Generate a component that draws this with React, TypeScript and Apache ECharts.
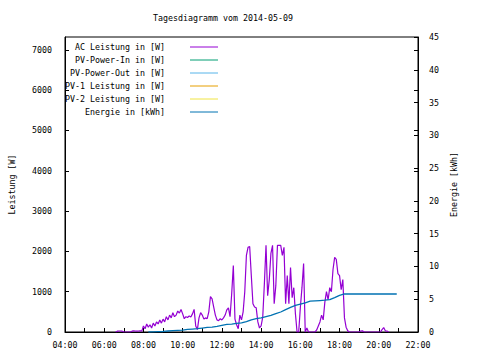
import { useEffect, useRef } from 'react';
import * as echarts from 'echarts';

const TITLE = 'Tagesdiagramm vom 2014-05-09';
const FONT = '"DejaVu Sans Mono", "Liberation Mono", monospace';

const keyNames = [
  'AC Leistung in [W]',
  'PV-Power-In in [W]',
  'PV-Power-Out in [W]',
  'PV-1 Leistung in [W]',
  'PV-2 Leistung in [W]',
  'Energie in [kWh]',
];
const keyColors = ['#9400d3', '#009e73', '#56b4e9', '#e69f00', '#f0e442', '#0072b2'];

// AC power, sampled every 5 minutes from 06:35
const acStart = '06:35';
const acStepMin = 5;
const acValues = [
  0, 20, 25, 25, 20, 0, 0, 0, 0, 0,
  20, 30, 25, 20, 25, 30, 20, 150, 80, 200,
  120, 180, 100, 220, 150, 250, 200, 300, 220, 320,
  250, 380, 300, 420, 350, 480, 380, 420, 520, 470,
  560, 450, 330, 380, 360, 400, 370, 450, 560, 150,
  60, 350, 480, 420, 320, 350, 330, 500, 880, 820,
  620, 420, 300, 280, 330, 300, 350, 420, 550, 600,
  380, 950, 1650, 320, 180, 80, 420, 300, 500, 1000,
  1900, 2100, 2120, 1400, 700, 620, 600, 250, 100, 150,
  370, 1200, 2150, 900, 1300, 1950, 2150, 700, 1150, 2150,
  2150, 2150, 1900, 2100, 700, 1400, 700, 1600, 850, 1100,
  450, 0, 0, 600, 1100, 1700, 0, 100, 0, 0,
  0, 0, 0, 50, 150, 250, 420, 300, 740, 1000,
  800, 1100, 1000, 1550, 1850, 1800, 1450, 1400, 1050, 1300,
  350, 120, 30, 0, 0, 0, 0, 0, 0, 0,
  25, 30, 0, 0, 0, 0, 0, 0, 0, 0,
  0, 0, 0, 60, 110, 30, 25, 0,
];

// Energy (kWh)
const energyTimes = [
  '08:15', '08:30', '08:45', '09:00', '09:15', '09:30', '09:45', '10:00',
  '10:15', '10:30', '10:45', '11:00', '11:15', '11:30', '11:45', '12:00',
  '12:15', '12:30', '12:45', '13:00', '13:15', '13:30', '13:45', '14:00',
  '14:15', '14:30', '14:45', '15:00', '15:15', '15:30', '15:45', '16:00',
  '16:15', '16:30', '16:45', '17:00', '17:15', '17:30', '17:45', '18:00',
  '18:15', '19:00', '20:00', '20:55',
];
const energyValues = [
  0, 0.02, 0.05, 0.08, 0.15, 0.2, 0.25, 0.3,
  0.4, 0.45, 0.5, 0.6, 0.7, 0.75, 0.85, 1.0,
  1.15, 1.2, 1.3, 1.4, 1.6, 1.85, 2.05, 2.15,
  2.35, 2.55, 2.8, 3.05, 3.4, 3.75, 4.05, 4.25,
  4.45, 4.7, 4.75, 4.8, 4.85, 4.95, 5.25, 5.6,
  5.8, 5.8, 5.8, 5.8,
];

const toHours = (s: string) => {
  const [h, m] = s.split(':').map(Number);
  return h + m / 60;
};
const pad = (n: number) => (n < 10 ? '0' + n : String(n));

export default function App() {
  const ref = useRef<HTMLDivElement>(null);
  useEffect(() => {
    if (!ref.current) return;
    const chart = echarts.init(ref.current, undefined, { renderer: 'svg' });
    const t0 = toHours(acStart);
    const acData = acValues.map((v, i) => [t0 + (i * acStepMin) / 60, v]);
    const enData = energyTimes.map((t, i) => [toHours(t), energyValues[i]]);
    const FS = 8.3;
    const txt = { color: '#000', fontFamily: FONT, fontSize: FS };

    const keyGraphics: any[] = [];
    keyNames.forEach((n, i) => {
      const y = 47 + i * 13;
      keyGraphics.push({
        type: 'text',
        x: 165,
        y,
        style: { text: n, fill: '#000', font: `${FS}px ${FONT}`, textAlign: 'right', textVerticalAlign: 'middle' },
      });
      keyGraphics.push({
        type: 'line',
        shape: { x1: 190, y1: y, x2: 218, y2: y },
        style: { stroke: keyColors[i], lineWidth: 1 },
      });
    });

    chart.setOption({
      animation: false,
      backgroundColor: '#fff',
      textStyle: { fontFamily: FONT },
      grid: {
        left: 58,
        right: 62,
        top: 37,
        bottom: 28,
        show: true,
        borderColor: '#000',
        borderWidth: 1,
      },
      xAxis: {
        type: 'value',
        min: 4,
        max: 22,
        interval: 1,
        axisLine: { show: true, lineStyle: { color: '#000', width: 1 } },
        axisTick: { show: true, inside: true, length: 4, lineStyle: { color: '#000' } },
        axisLabel: {
          ...txt,
          margin: 9,
          formatter: (v: number) => (v % 2 === 0 ? pad(v) + ':00' : ''),
        },
        splitLine: { show: false },
      },
      yAxis: [
        {
          type: 'value',
          min: 0,
          max: 7320,
          interval: 1000,
          position: 'left',
          name: 'Leistung [W]',
          nameLocation: 'middle',
          nameRotate: 90,
          nameGap: 49,
          nameTextStyle: txt,
          axisLine: { show: true, lineStyle: { color: '#000', width: 1 } },
          axisTick: { show: true, inside: true, length: 4, lineStyle: { color: '#000' } },
          axisLabel: { ...txt, margin: 13, showMaxLabel: false, formatter: (v: number) => (v % 1000 === 0 ? String(v) : '') },
          splitLine: { show: false },
        },
        {
          type: 'value',
          min: 0,
          max: 45,
          interval: 5,
          position: 'right',
          name: 'Energie [kWh]',
          nameLocation: 'middle',
          nameRotate: 90,
          nameGap: 31,
          nameTextStyle: txt,
          axisLine: { show: true, lineStyle: { color: '#000', width: 1 } },
          axisTick: { show: true, inside: true, length: 4, lineStyle: { color: '#000' } },
          axisLabel: { ...txt, margin: 11 },
          splitLine: { show: false },
        },
        {
          type: 'value',
          min: 0,
          max: 7320,
          interval: 1000,
          position: 'right',
          axisLine: { show: false },
          axisTick: { show: true, inside: true, length: 4, lineStyle: { color: '#000' } },
          axisLabel: { show: false },
          splitLine: { show: false },
        },
      ],
      graphic: [
        {
          type: 'text',
          x: 223,
          y: 18,
          style: { text: TITLE, fill: '#000', font: `${FS}px ${FONT}`, textAlign: 'center', textVerticalAlign: 'middle' },
        },
        ...keyGraphics,
      ],
      series: [
        {
          name: keyNames[0],
          type: 'line',
          data: acData,
          yAxisIndex: 0,
          showSymbol: false,
          lineStyle: { color: keyColors[0], width: 1.2 },
          itemStyle: { color: keyColors[0] },
        },
        { name: keyNames[1], type: 'line', data: [], yAxisIndex: 0, showSymbol: false, lineStyle: { color: keyColors[1], width: 1 } },
        { name: keyNames[2], type: 'line', data: [], yAxisIndex: 0, showSymbol: false, lineStyle: { color: keyColors[2], width: 1 } },
        { name: keyNames[3], type: 'line', data: [], yAxisIndex: 0, showSymbol: false, lineStyle: { color: keyColors[3], width: 1 } },
        { name: keyNames[4], type: 'line', data: [], yAxisIndex: 0, showSymbol: false, lineStyle: { color: keyColors[4], width: 1 } },
        {
          name: keyNames[5],
          type: 'line',
          data: enData,
          yAxisIndex: 1,
          showSymbol: false,
          lineStyle: { color: keyColors[5], width: 1.3 },
          itemStyle: { color: keyColors[5] },
        },
      ],
    });
    return () => chart.dispose();
  }, []);
  return <div ref={ref} style={{ width: 480, height: 360, position: 'absolute', left: 0, top: 0 }} />;
}
